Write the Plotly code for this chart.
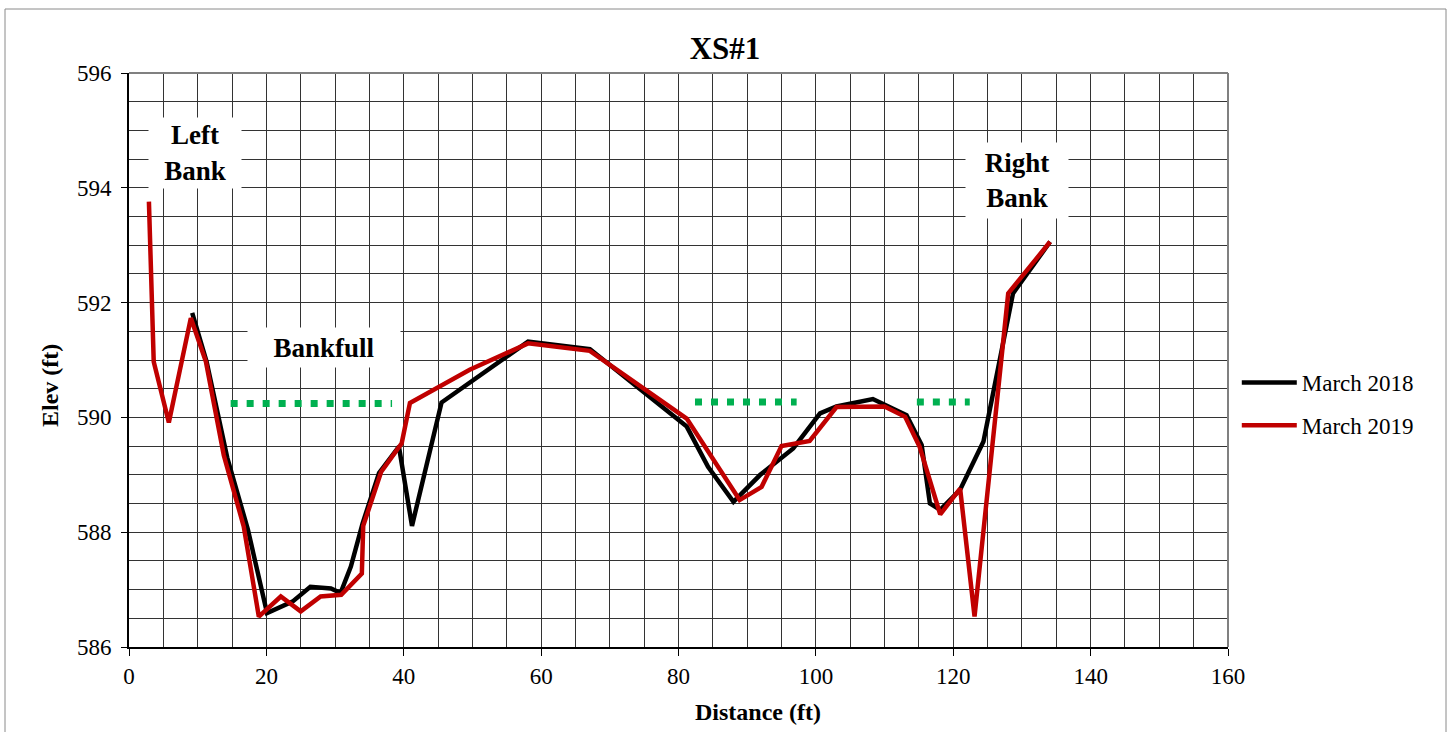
import plotly.graph_objects as go

# March 2018 survey
x_2018 = [9.2, 11.3, 14.3, 17.3, 20.1, 23.8, 26.4, 29.4, 30.8, 32.3, 34.0, 36.4, 39.3, 41.2, 45.5,
          58.1, 67.1, 81.2, 84.3, 88.0, 91.9, 96.7, 100.6, 103.0, 108.3, 113.2, 115.4, 116.6,
          118.1, 121.0, 124.4, 128.7, 134.1]
y_2018 = [591.82, 590.97, 589.30, 588.05, 586.59, 586.79, 587.05, 587.02, 586.94, 587.40, 588.15,
          589.03, 589.49, 588.11, 590.26, 591.32, 591.19, 589.84, 589.14, 588.53, 589.00, 589.46,
          590.07, 590.19, 590.32, 590.04, 589.52, 588.50, 588.39, 588.74, 589.58, 592.16, 593.06]

# March 2019 survey
x_2019 = [2.9, 3.6, 5.8, 9.0, 11.2, 13.8, 16.7, 18.9, 22.1, 25.0, 27.9, 30.9, 33.9, 34.1, 36.7,
          39.7, 40.9, 49.6, 58.1, 67.1, 81.2, 88.9, 92.1, 95.0, 99.1, 103.0, 110.0, 113.0, 115.1,
          118.1, 121.0, 123.1, 128.0, 134.1]
y_2019 = [593.76, 590.97, 589.91, 591.73, 590.97, 589.34, 588.10, 586.53, 586.88, 586.62, 586.88,
          586.91, 587.28, 588.11, 589.05, 589.55, 590.25, 590.83, 591.29, 591.16, 589.98, 588.56,
          588.79, 589.50, 589.59, 590.18, 590.19, 590.01, 589.49, 588.31, 588.76, 586.53, 592.16,
          593.06]

# Bankfull indicator segments (start x, end x, elevation)
bankfull_x0 = [14.8, 82.4, 114.7]
bankfull_x1 = [38.3, 97.2, 122.4]
bankfull_y = [590.24, 590.27, 590.27]

x_ticks = [0, 20, 40, 60, 80, 100, 120, 140, 160]
y_ticks = [586, 588, 590, 592, 594, 596]

FONT = "Liberation Serif, Times New Roman, serif"

fig = go.Figure()

for x0, x1, yb in zip(bankfull_x0, bankfull_x1, bankfull_y):
    fig.add_trace(go.Scatter(x=[x0, x1], y=[yb, yb], mode="lines",
                             line=dict(color="#00B050", width=7, dash="7px,9px"),
                             showlegend=False, hoverinfo="skip"))

fig.add_trace(go.Scatter(x=x_2018, y=y_2018, mode="lines", name="March 2018",
                         legendgroup="a", line=dict(color="#000000", width=4.5)))
fig.add_trace(go.Scatter(x=x_2019, y=y_2019, mode="lines", name="March 2019",
                         legendgroup="b", line=dict(color="#C00000", width=4.5)))

grid_color = "#333333"
tick_font = dict(family=FONT, size=23, color="#000")
fig.update_xaxes(range=[0, 160], tickvals=x_ticks, ticks="outside", ticklen=7, tickcolor="#000",
                 showline=True, linecolor="#000", linewidth=2,
                 showgrid=True, gridcolor=grid_color, gridwidth=1,
                 minor=dict(dtick=5, tick0=0, showgrid=True, gridcolor=grid_color, gridwidth=1, ticks=""),
                 tickfont=tick_font, ticklabelstandoff=0, zeroline=False)
fig.update_yaxes(range=[586, 596], tickvals=y_ticks, ticks="outside", ticklen=6, tickcolor="#000",
                 showline=True, linecolor="#000", linewidth=2,
                 showgrid=True, gridcolor=grid_color, gridwidth=1,
                 minor=dict(dtick=0.5, tick0=586, showgrid=True, gridcolor=grid_color, gridwidth=1, ticks=""),
                 tickfont=tick_font, ticklabelstandoff=5, zeroline=False)

ann_font = dict(family=FONT, size=27, color="#000", weight="bold")
annotations = [
    dict(x=9.6, y=594.61, xref="x", yref="y", text="Left<br>Bank", showarrow=False,
         font=ann_font, bgcolor="white", width=90, height=68),
    dict(x=129.3, y=594.12, xref="x", yref="y", text="Right<br>Bank", showarrow=False,
         font=ann_font, bgcolor="white", width=100, height=73),
    dict(x=28.4, y=591.21, xref="x", yref="y", text="Bankfull", showarrow=False,
         font=ann_font, bgcolor="white", width=150, height=37),
    dict(x=(758 - 129) / 1099, y=(647 - 712) / 574, xref="paper", yref="paper",
         xanchor="center", yanchor="middle",
         text="Distance (ft)", showarrow=False,
         font=dict(family=FONT, size=24, color="#000", weight="bold")),
    dict(x=(50 - 129) / 1099, y=(647 - 386) / 574, xref="paper", yref="paper",
         xanchor="center", yanchor="middle",
         text="Elev (ft)", showarrow=False, textangle=-90,
         font=dict(family=FONT, size=24, color="#000", weight="bold")),
]

shapes = [
    # outer chart frame
    dict(type="rect", xref="paper", yref="paper", x0=(5 - 129) / 1099, x1=(1446 - 129) / 1099,
         y0=(647 - 740) / 574, y1=(647 - 9) / 574, line=dict(color="#8a8a8a", width=1),
         layer="below"),
    # plot-area border (top & right)
    dict(type="line", xref="paper", yref="paper", x0=0, x1=1, y0=1, y1=1,
         line=dict(color="#808080", width=2)),
    dict(type="line", xref="paper", yref="paper", x0=1, x1=1, y0=0, y1=1,
         line=dict(color="#808080", width=2)),
]

fig.update_layout(
    width=1449, height=732,
    margin=dict(l=129, r=221, t=73, b=85),
    paper_bgcolor="white", plot_bgcolor="white",
    font=dict(family=FONT, color="#000"),
    title=dict(text="XS#1", x=725 / 1449, xref="container", xanchor="center",
               y=1 - 48 / 732, yref="container", yanchor="middle",
               font=dict(family=FONT, size=31, color="#000", weight="bold")),
    legend=dict(x=1.008, xanchor="left", y=(647 - 404) / 574, yanchor="middle",
                font=dict(family=FONT, size=23, color="#000"),
                bgcolor="rgba(0,0,0,0)", itemwidth=55, tracegroupgap=10,
                traceorder="grouped"),
    annotations=annotations,
    shapes=shapes,
    showlegend=True,
)

fig.write_html("out.html")
